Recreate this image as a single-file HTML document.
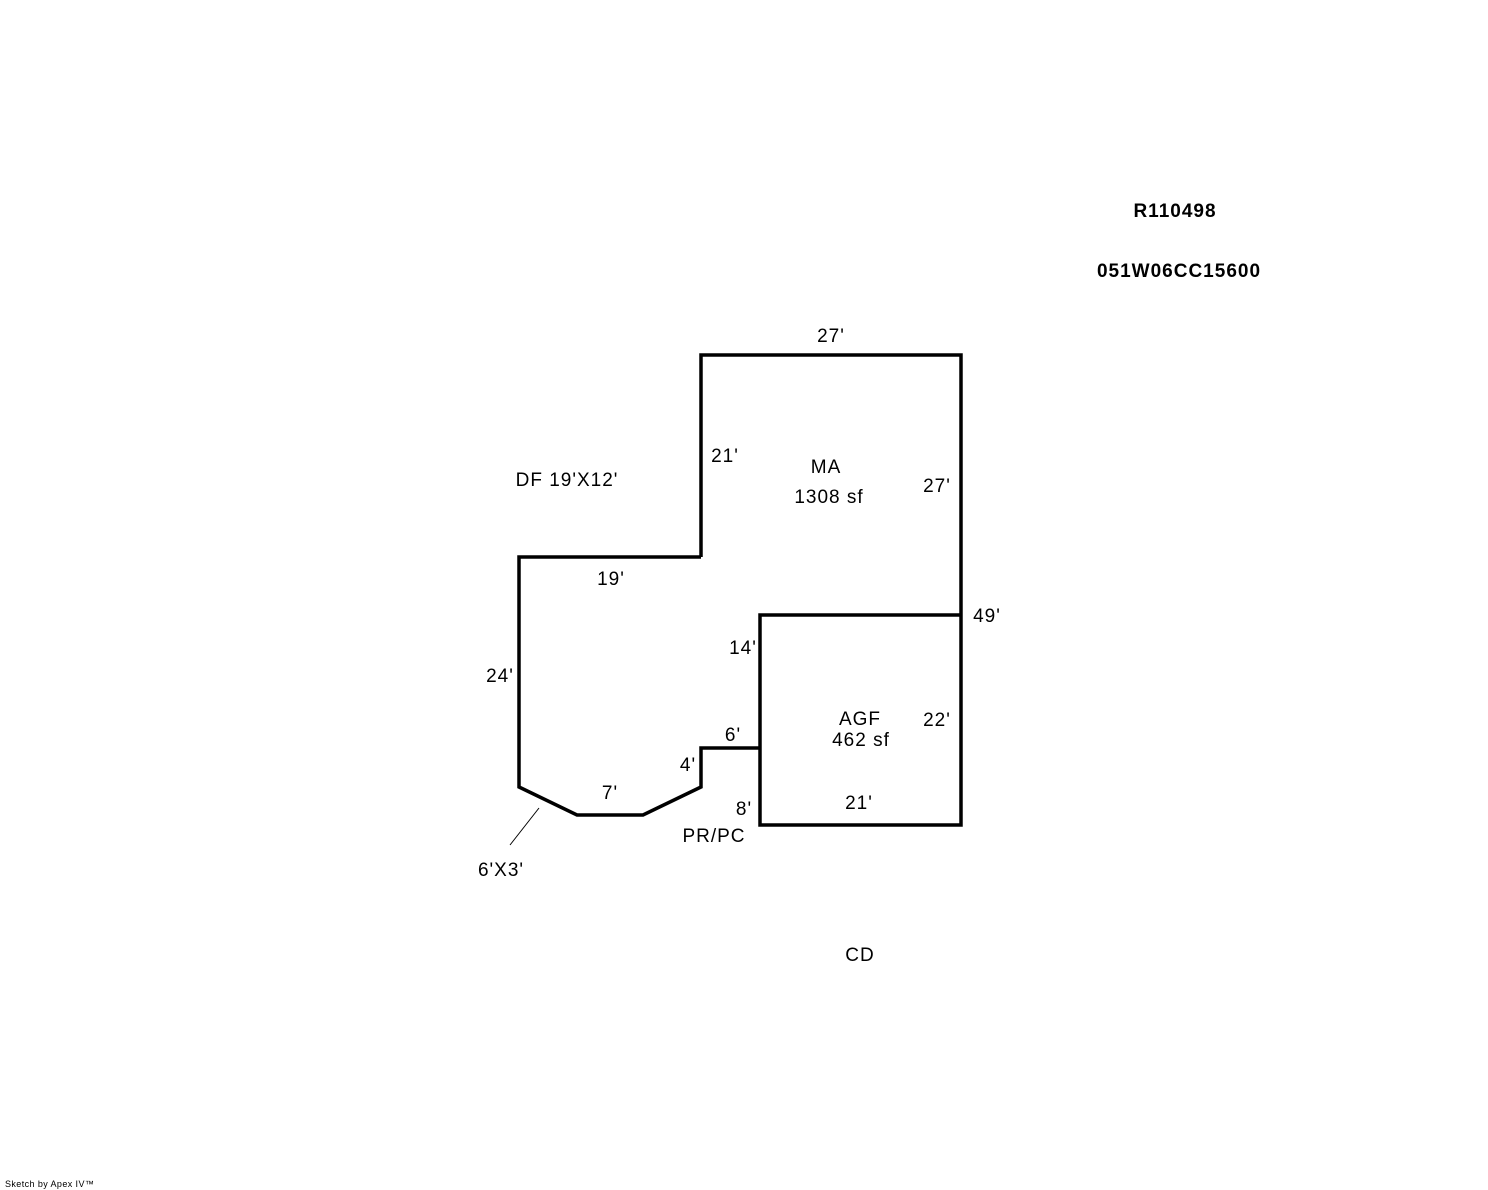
<!DOCTYPE html>
<html><head><style>
body{margin:0;background:#fff;}
svg{display:block;}
text{font-family:"Liberation Sans",Arial,sans-serif;font-size:19px;letter-spacing:1px;fill:#000;}
</style></head><body>
<svg width="1488" height="1190" viewBox="0 0 1488 1190" xmlns="http://www.w3.org/2000/svg">
<g fill="none" stroke="#000" stroke-width="3.5" stroke-linejoin="miter">
<polyline points="701,557 701,355 961,355 961,825 760,825 760,615 961,615"/>
<polyline points="760,748 701,748 701,787 643,815 577,815 519,787 519,557 701,557"/>
</g>
<line x1="539" y1="808" x2="510" y2="845" stroke="#000" stroke-width="1"/>
<text x="1175" y="217" text-anchor="middle" font-weight="bold">R110498</text>
<text x="1179" y="277" text-anchor="middle" font-weight="bold">051W06CC15600</text>
<text x="831" y="342" text-anchor="middle">27'</text>
<text x="725" y="462" text-anchor="middle">21'</text>
<text x="826" y="473" text-anchor="middle">MA</text>
<text x="829" y="503" text-anchor="middle">1308 sf</text>
<text x="937" y="492" text-anchor="middle">27'</text>
<text x="567" y="486" text-anchor="middle">DF 19'X12'</text>
<text x="611" y="585" text-anchor="middle">19'</text>
<text x="987" y="622" text-anchor="middle">49'</text>
<text x="743" y="654" text-anchor="middle">14'</text>
<text x="500" y="682" text-anchor="middle">24'</text>
<text x="860" y="725" text-anchor="middle">AGF</text>
<text x="861" y="746" text-anchor="middle">462 sf</text>
<text x="937" y="726" text-anchor="middle">22'</text>
<text x="733" y="741" text-anchor="middle">6'</text>
<text x="688" y="771" text-anchor="middle">4'</text>
<text x="610" y="799" text-anchor="middle">7'</text>
<text x="744" y="815" text-anchor="middle">8'</text>
<text x="859" y="809" text-anchor="middle">21'</text>
<text x="714" y="842" text-anchor="middle">PR/PC</text>
<text x="501" y="876" text-anchor="middle">6'X3'</text>
<text x="860" y="961" text-anchor="middle">CD</text>
<text x="5" y="1187" style="font-size:9px;letter-spacing:0.4px">Sketch by Apex IV™</text>
</svg>
</body></html>
